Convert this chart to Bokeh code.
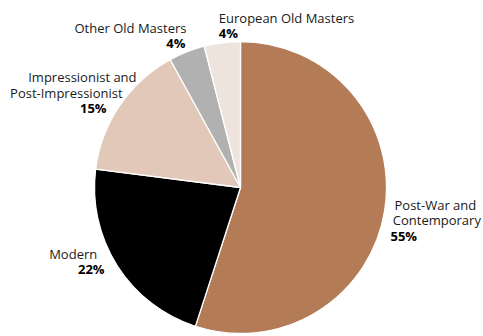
import math
from bokeh.plotting import figure
from bokeh.models import Range1d, ColumnDataSource
from bokeh.core.properties import value
from bokeh.embed import file_html
from bokeh.resources import INLINE

# ---- data ----
categories = ["Post-War and Contemporary", "Modern",
              "Impressionist and Post-Impressionist",
              "Other Old Masters", "European Old Masters"]
label_lines = [["Post-War and", "Contemporary"], ["Modern"],
               ["Impressionist and", "Post-Impressionist"],
               ["Other Old Masters"], ["European Old Masters"]]
shares = [55, 22, 15, 4, 4]
colors = ["#b47b57", "#000000", "#e2c8b8", "#b1b1b1", "#efe4dd"]

# ---- layout (styling only) ----
W, H = 483, 336
FONT = "Open Sans"
FS = "13px"
LINE = 15.5
cx, cy, R = 240, 149, 146          # pie centre / radius in plot units (1 unit = 1 px)

# label placement relative to slice arc midpoint: (dx, dy_down, align, per-line dx)
label_layout = [
    (9.8, -5.8, "left", [0, -1.7, -4]),
    (-20.0, -11.9, "right", [0, 7.3]),
    (16.8, -28.4, "right", [0, -14, -30]),
    (-0.3, -23.9, "right", [0, -1]),
    (-3.4, -24.9, "left", [0, 0]),
]

total = float(sum(shares))
starts, ends, mids = [], [], []
cum = 0.0
for s in shares:
    a0 = math.pi / 2 - 2 * math.pi * cum / total
    cum += s
    a1 = math.pi / 2 - 2 * math.pi * cum / total
    starts.append(a0)
    ends.append(a1)
    mids.append((a0 + a1) / 2)

src = ColumnDataSource(dict(cat=categories, share=shares, color=colors,
                            start=starts, end=ends))

p = figure(width=W, height=H, output_backend="svg", toolbar_location=None,
           x_range=Range1d(0, W), y_range=Range1d(0, H),
           min_border=0, outline_line_color=None, background_fill_color="white",
           border_fill_color="white")
p.axis.visible = False
p.grid.visible = False

p.wedge(x=cx, y=cy, radius=R, start_angle="start", end_angle="end",
        direction="clock", fill_color="color", line_color="white",
        line_width=1.3, source=src)

nx, ny, nt, na = [], [], [], []
bx, by, bt, ba = [], [], [], []
for i, lines in enumerate(label_lines):
    dx, dy, align, ldx = label_layout[i]
    ax = cx + R * math.cos(mids[i]) + dx
    ay = cy + R * math.sin(mids[i]) - dy
    for j, t in enumerate(lines):
        nx.append(ax + ldx[j]); ny.append(ay - j * LINE); nt.append(t); na.append(align)
    j = len(lines)
    bx.append(ax + ldx[j]); by.append(ay - j * LINE)
    bt.append(f"{shares[i]}%"); ba.append(align)

p.text(x="x", y="y", text="t", text_align="a", text_baseline="alphabetic",
       source=ColumnDataSource(dict(x=nx, y=ny, t=nt, a=na)),
       text_font=value(FONT), text_font_size=FS, text_color="#1a1a1a")
p.text(x="x", y="y", text="t", text_align="a", text_baseline="alphabetic",
       source=ColumnDataSource(dict(x=bx, y=by, t=bt, a=ba)),
       text_font=value(FONT), text_font_size=FS, text_font_style="bold",
       text_color="#000000")

open("out.html", "w").write(file_html(p, INLINE))
